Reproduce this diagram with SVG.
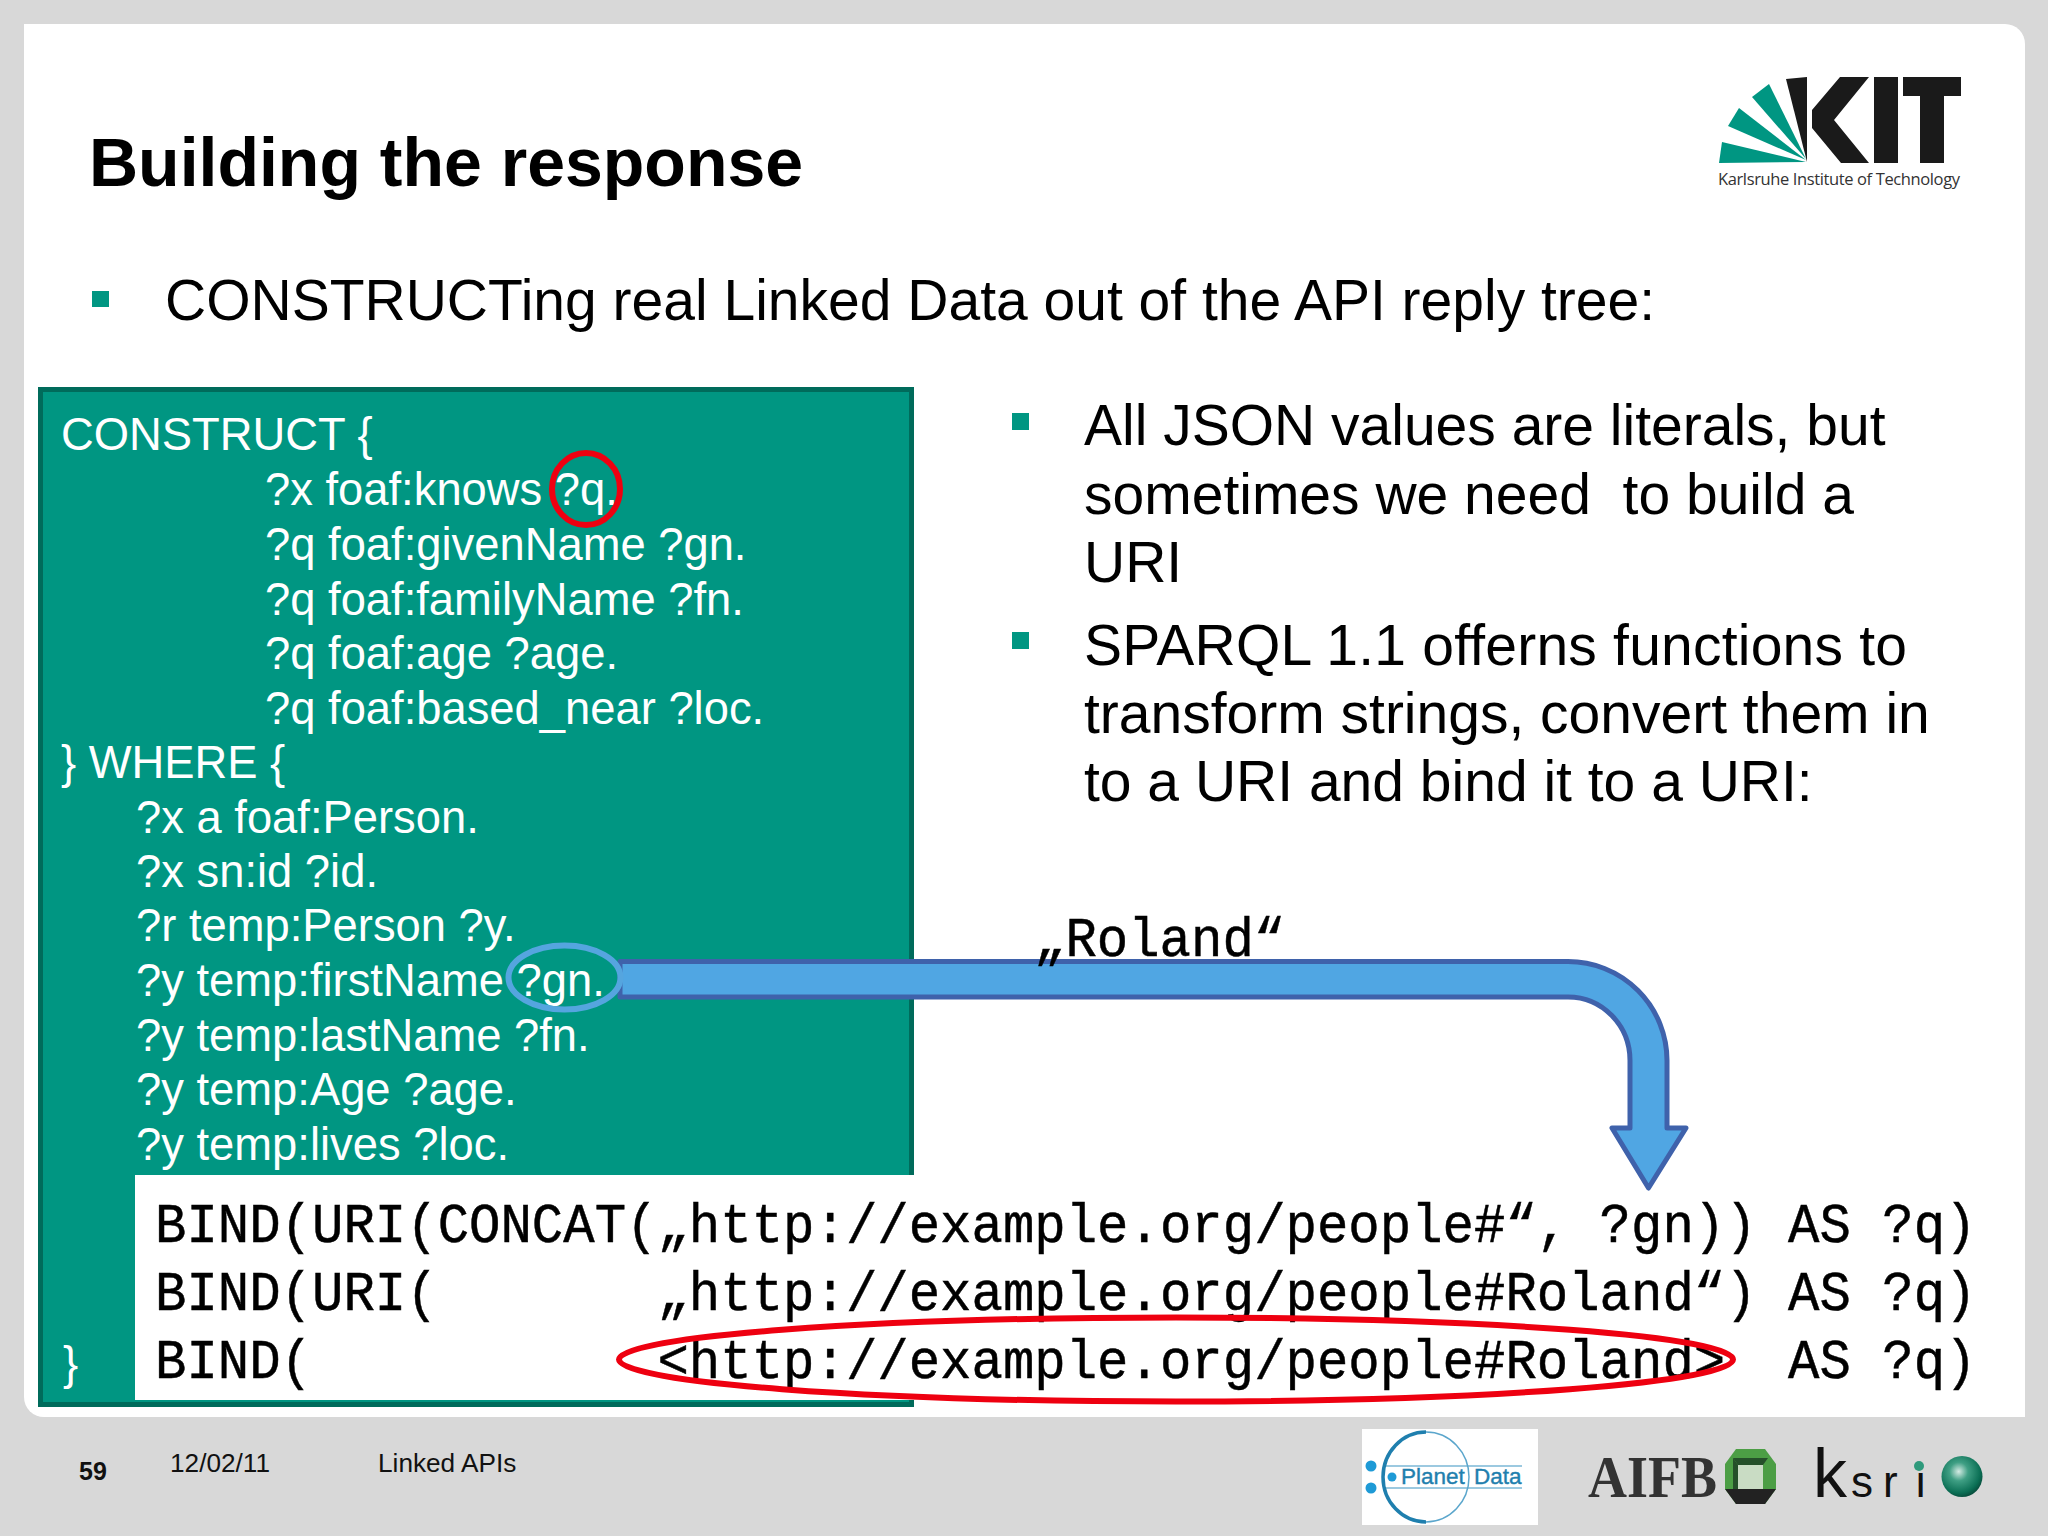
<svg xmlns="http://www.w3.org/2000/svg" width="2048" height="1536" viewBox="0 0 2048 1536">
<defs>
<radialGradient id="sphere" cx="0.42" cy="0.38" r="0.65"><stop offset="0" stop-color="#d5ebe4"/><stop offset="0.35" stop-color="#3f9f84"/><stop offset="0.8" stop-color="#0b6f55"/><stop offset="1" stop-color="#074a3a"/></radialGradient>
</defs>
<style>
text{font-family:"Liberation Sans",Arial,sans-serif}
.code{font-size:45.350px;fill:#fff}
.body{font-size:57px;fill:#000;white-space:pre}
.mono{font-family:"Liberation Mono","DejaVu Sans Mono",monospace;font-size:56px;fill:#000;white-space:pre;stroke:#000;stroke-width:0.5}
.foot{font-size:26.200px;fill:#111}
.bullet{fill:#009682}
.ring{fill:none;stroke-width:6}
</style>
<rect width="2048" height="1536" fill="#d8d8d8"/>
<path id="slide" d="M24 24H2005a20 20 0 0 1 20 20V1417H44a20 20 0 0 1-20-20Z" fill="#fff"/>
<g id="title"><text x="89" y="186" font-size="68" font-weight="700" fill="#000">Building the response</text></g>
<g id="kit-logo">
<g fill="#009682">
<polygon points="1719,163 1722,142 1806,162"/>
<polygon points="1728,126 1739,108 1806,160"/>
<polygon points="1752,97 1769,84 1806,159"/>
</g>
<g fill="#1a1a1a">
<polygon points="1786,79 1807,77 1807,162"/>
<polygon points="1812,110 1840,77 1869,77 1834,120 1869,163 1841,163 1812,128"/>
<rect x="1874" y="77" width="24" height="86"/>
<polygon points="1903,77 1961,77 1961,96 1944,96 1944,163 1920,163 1920,96 1903,96"/>
</g>
<text x="1718" y="184.500" font-size="16.500" fill="#333" textLength="242" style="font-family:'Open Sans','Liberation Sans',sans-serif">Karlsruhe Institute of Technology</text>
</g>
<g id="intro">
<rect class="bullet" x="92" y="291" width="17" height="16"/>
<text class="body" x="165" y="320">CONSTRUCTing real Linked Data out of the API reply tree:</text>
</g>
<g id="query-box">
<rect x="40.500" y="389.500" width="871" height="1015" fill="#009682" stroke="#006b5b" stroke-width="5"/>
<text class="code" x="61" y="450">CONSTRUCT {</text>
<text class="code" x="265" y="505">?x foaf:knows ?q.</text>
<text class="code" x="265" y="560">?q foaf:givenName ?gn.</text>
<text class="code" x="265" y="615">?q foaf:familyName ?fn.</text>
<text class="code" x="265" y="669">?q foaf:age ?age.</text>
<text class="code" x="265" y="724">?q foaf:based_near ?loc.</text>
<text class="code" x="61" y="778">} WHERE {</text>
<text class="code" x="136" y="833">?x a foaf:Person.</text>
<text class="code" x="136" y="887">?x sn:id ?id.</text>
<text class="code" x="136" y="941">?r temp:Person ?y.</text>
<text class="code" x="136" y="996">?y temp:firstName ?gn.</text>
<text class="code" x="136" y="1051">?y temp:lastName ?fn.</text>
<text class="code" x="136" y="1105">?y temp:Age ?age.</text>
<text class="code" x="136" y="1160">?y temp:lives ?loc.</text>
<text class="code" x="63" y="1379">}</text>
</g>
<g id="notes">
<rect class="bullet" x="1012" y="413" width="17" height="17"/>
<text class="body" x="1084" y="445">All JSON values are literals, but</text>
<text class="body" x="1084" y="514" xml:space="preserve">sometimes we need  to build a</text>
<text class="body" x="1084" y="582">URI</text>
<rect class="bullet" x="1012" y="632" width="17" height="17"/>
<text class="body" x="1084" y="665" textLength="823">SPARQL 1.1 offerns functions to</text>
<text class="body" x="1084" y="733">transform strings, convert them in</text>
<text class="body" x="1084" y="801">to a URI and bind it to a URI:</text>
</g>
<g id="bind-box"><rect x="135" y="1175" width="1880" height="225" fill="#fff"/></g>
<g id="connectors">
<path id="bent-arrow" d="M620 961.500H1568A99 99 0 0 1 1667 1060.500V1128H1686L1648.500 1188L1612 1128H1630V1060.500A62 63.500 0 0 0 1568 997H620Z" fill="#50a6e3" stroke="#3f62ab" stroke-width="5" stroke-linejoin="round"/>
</g>
<g id="marks">
<ellipse class="ring" cx="586" cy="489" rx="34" ry="36" stroke="#ee0010"/>
<ellipse class="ring" cx="564.500" cy="977.500" rx="56" ry="32" stroke="#55a5df"/>
</g>
<g id="value"><text class="mono" transform="translate(1034 956) scale(0.9348 1)">„Roland“</text></g>
<g id="bind">
<text class="mono" transform="translate(155 1242) scale(0.9348 1)" xml:space="preserve">BIND(URI(CONCAT(„http://example.org/people#“, ?gn)) AS ?q)</text>
<text class="mono" transform="translate(155 1310) scale(0.9348 1)" xml:space="preserve">BIND(URI(       „http://example.org/people#Roland“) AS ?q)</text>
<text class="mono" transform="translate(155 1378) scale(0.9348 1)" xml:space="preserve">BIND(           &lt;http://example.org/people#Roland&gt;  AS ?q)</text>
<ellipse class="ring" cx="1176" cy="1359.500" rx="557" ry="42" stroke="#ee0010"/>
</g>
<g id="footer">
<text class="foot" x="79" y="1480" font-weight="700" style="font-size:25px">59</text>
<text class="foot" x="170" y="1472">12/02/11</text>
<text class="foot" x="378" y="1472">Linked APIs</text>
</g>
<g id="planetdata-logo">
<rect x="1362" y="1429" width="176" height="96" fill="#fff"/>
<path d="M1384 1466H1522M1384 1488H1522" stroke="#9cc9e0" stroke-width="2" fill="none"/>
<ellipse cx="1426" cy="1477" rx="43" ry="45" fill="none" stroke="#5ba6cc" stroke-width="1.500"/>
<path d="M1426 1432A43 45 0 0 0 1426 1522" fill="none" stroke="#1f7fae" stroke-width="3.500"/>
<circle cx="1371" cy="1466" r="5.500" fill="#1e9ad6"/><circle cx="1371" cy="1488" r="5.500" fill="#1e9ad6"/><circle cx="1392" cy="1477" r="4.500" fill="#1e9ad6"/>
<text x="1401" y="1484" font-size="22.500" fill="#1f7fae" stroke="#1f7fae" stroke-width="0.400">Planet</text>
<text x="1474" y="1484" font-size="22.500" fill="#1f7fae" stroke="#1f7fae" stroke-width="0.400">Data</text>
</g>
<g id="aifb-logo">
<text x="1588" y="1497" font-size="60" font-weight="700" fill="#333" textLength="129" lengthAdjust="spacingAndGlyphs" style="font-family:'Liberation Serif',serif">AIFB</text>
<polygon points="1736,1449 1765,1449 1776,1464 1776,1489 1765,1504 1736,1504 1725,1489 1725,1464" fill="#4c9e45"/>
<polygon points="1725,1489 1738,1489 1763,1489 1776,1489 1765,1504 1736,1504" fill="#222"/>
<polygon points="1733,1458 1768,1458 1763,1465 1738,1465" fill="#25502a"/>
<polygon points="1733,1458 1738,1465 1738,1489 1733,1489" fill="#25502a"/>
<rect x="1738" y="1465" width="25" height="24" fill="#c9dcc4"/>
</g>
<g id="ksri-logo">
<text x="1813" y="1497" fill="#111"><tspan font-size="68">k</tspan><tspan font-size="44" dx="4">s</tspan><tspan font-size="44" dx="10">r</tspan><tspan font-size="44" dx="18">i</tspan></text>
<circle cx="1919" cy="1466" r="5" fill="#2f9a7c"/>
<circle cx="1962" cy="1476.500" r="20.500" fill="url(#sphere)"/>
</g>
</svg>
